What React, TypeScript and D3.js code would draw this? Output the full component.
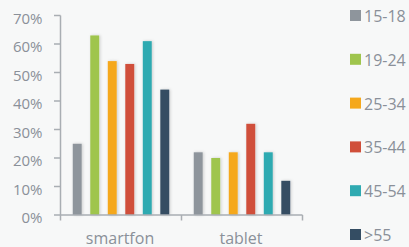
import React, { useEffect, useRef } from "react";
import * as d3 from "d3";

const categories = ["smartfon", "tablet"];
const ageGroups = ["15-18", "19-24", "25-34", "35-44", "45-54", ">55"];
const smartfonValues = [25, 63, 54, 53, 61, 44];
const tabletValues = [22, 20, 22, 32, 22, 12];
const yTicks = [0, 10, 20, 30, 40, 50, 60, 70];
const colors = ["#8e959c", "#9fc54d", "#f5a81c", "#d04f3a", "#2faab1", "#344d63"];

const W = 409;
const H = 247;

export default function App() {
  const svgRef = useRef<SVGSVGElement | null>(null);

  useEffect(() => {
    if (!svgRef.current) return;
    const svg = d3.select(svgRef.current);
    svg.selectAll("*").remove();

    const font = "'Open Sans', sans-serif";
    const textColor = "#8a9099";
    const axisColor = "#a9aeb3";

    svg.append("rect").attr("width", W).attr("height", H).attr("fill", "#f7f8f8");

    // soft shadow behind bars
    const defs = svg.append("defs");
    const f = defs.append("filter").attr("id", "shadow").attr("x", "-50%").attr("y", "-10%").attr("width", "200%").attr("height", "120%");
    f.append("feDropShadow")
      .attr("dx", 1)
      .attr("dy", 0)
      .attr("stdDeviation", 1.8)
      .attr("flood-color", "#000")
      .attr("flood-opacity", 0.18);

    const y = d3.scaleLinear().domain([0, 70]).range([215, 15.5]);
    const x0 = d3.scaleBand<string>().domain(categories).range([60.5, 302.5]).padding(0);
    const x1 = d3
      .scaleBand<string>()
      .domain(ageGroups)
      .range([0, x0.bandwidth()])
      .paddingInner(0.49)
      .paddingOuter(0.7);

    const series = [smartfonValues, tabletValues];

    // bars
    categories.forEach((cat, ci) => {
      const g = svg.append("g").attr("transform", `translate(${x0(cat)},0)`);
      g.selectAll("rect")
        .data(ageGroups)
        .enter()
        .append("rect")
        .attr("x", (d) => x1(d)!)
        .attr("y", (d, i) => y(series[ci][i]))
        .attr("width", x1.bandwidth())
        .attr("height", (d, i) => y(0) - y(series[ci][i]))
        .attr("fill", (d, i) => colors[i])
        .attr("filter", "url(#shadow)");
    });

    // y axis
    const yAxis = svg.append("g");
    yAxis
      .append("line")
      .attr("x1", 60.5)
      .attr("x2", 60.5)
      .attr("y1", y(70))
      .attr("y2", y(0))
      .attr("stroke", axisColor)
      .attr("stroke-width", 1.5);
    yTicks.forEach((t) => {
      yAxis
        .append("line")
        .attr("x1", 54)
        .attr("x2", 60.5)
        .attr("y1", y(t))
        .attr("y2", y(t))
        .attr("stroke", axisColor)
        .attr("stroke-width", 1.5);
      yAxis
        .append("text")
        .attr("x", 42.5)
        .attr("y", y(t) + 8)
        .attr("text-anchor", "end")
        .attr("fill", textColor)
        .style("font-family", font)
        .style("font-size", "15px")
        .text(`${t}%`);
    });

    // x axis
    const xAxis = svg.append("g");
    xAxis
      .append("line")
      .attr("x1", 60.5)
      .attr("x2", 302.5)
      .attr("y1", y(0))
      .attr("y2", y(0))
      .attr("stroke", axisColor)
      .attr("stroke-width", 1.5);
    const bounds = [...categories.map((c) => x0(c)!), x0(categories[1])! + x0.bandwidth()];
    bounds.forEach((bx) => {
      xAxis
        .append("line")
        .attr("x1", bx)
        .attr("x2", bx)
        .attr("y1", y(0))
        .attr("y2", y(0) + 5.5)
        .attr("stroke", axisColor)
        .attr("stroke-width", 1.5);
    });
    categories.forEach((cat) => {
      xAxis
        .append("text")
        .attr("x", x0(cat)! + x0.bandwidth() / 2 - 1)
        .attr("y", 243.5)
        .attr("text-anchor", "middle")
        .attr("fill", textColor)
        .style("font-family", font)
        .style("font-size", "16px")
        .text(cat);
    });

    // legend
    const legend = svg.append("g");
    ageGroups.forEach((a, i) => {
      const ly = 10 + i * 43.8;
      legend.append("rect").attr("x", 350).attr("y", ly).attr("width", 11).attr("height", 11).attr("fill", colors[i]);
      legend
        .append("text")
        .attr("x", 364)
        .attr("y", ly + 12)
        .attr("fill", textColor)
        .style("font-family", font)
        .style("font-size", "16px")
        .text(a);
    });
  }, []);

  return (
    <div style={{ position: "absolute", left: 0, top: 0, width: W, height: H, overflow: "hidden" }}>
      <svg ref={svgRef} width={W} height={H} style={{ display: "block" }} />
    </div>
  );
}
